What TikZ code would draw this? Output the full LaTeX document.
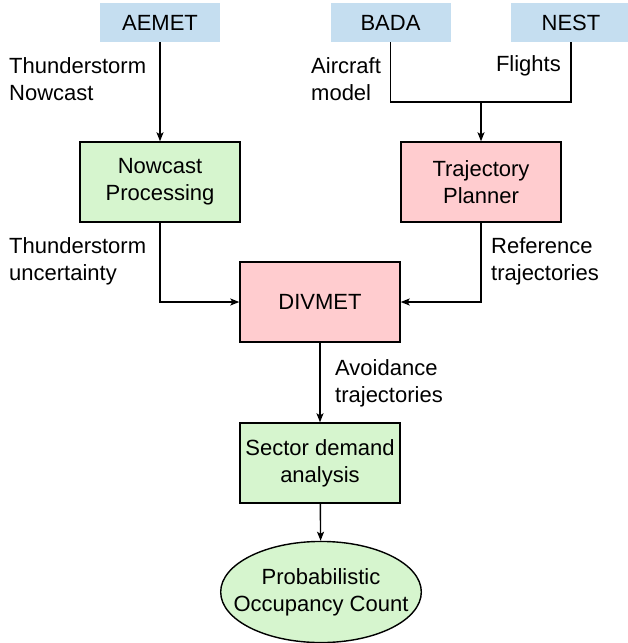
\documentclass[tikz,border=0pt]{standalone}
\usepackage{fontspec}
\setmainfont{Liberation Sans}
\usepackage{tikz}
\usetikzlibrary{arrows.meta, shapes.geometric, positioning}
\definecolor{srcblue}{RGB}{197,222,240}
\definecolor{procgreen}{RGB}{214,245,206}
\definecolor{procpink}{RGB}{255,204,207}

\begin{document}
\begin{tikzpicture}[x=1pt, y=-1pt,
        font=\fontsize{22}{27}\selectfont,
        source/.style={fill=srcblue, minimum width=120pt, minimum height=39pt, inner sep=0pt},
        procbox/.style={draw, line width=1.4pt, minimum width=160pt, minimum height=80pt, align=center, inner sep=0pt},
        flowlabel/.style={align=left, inner sep=0pt},
        flow/.style={line width=1.4pt, -{Stealth[length=9pt, width=7pt, inset=2pt]}}]
        \useasboundingbox (0,0) rectangle (627,643);

        % data sources
        \node[source] (aemet) at (160,22.5) {AEMET};
        \node[source] (bada) at (390.5,22.5) {BADA};
        \node[source] (nest) at (571,22.5) {NEST};

        % processing blocks
        \node[procbox, fill=procgreen] (nowcast) at (160,182) {Nowcast\\Processing};
        \node[procbox, fill=procpink] (planner) at (481,182) {Trajectory\\Planner};
        \node[procbox, fill=procpink] (divmet) at (320,302) {DIVMET};
        \node[procbox, fill=procgreen] (sector) at (320,463) {Sector demand\\analysis};
        \node[ellipse, draw, line width=1.4pt, fill=procgreen, align=center,
              inner xsep=-16.5pt, inner ysep=12pt] (count) at (321,592) {Probabilistic\\Occupancy Count};

        \coordinate (merge) at (481,102);

        % connectors
        \draw[flow] (aemet) -- (nowcast);
        \draw[line width=1.4pt] (bada.south) |- (merge);
        \draw[line width=1.4pt] (nest.south) |- (merge);
        \draw[flow] (merge) -- (planner);
        \draw[flow] (nowcast.south) |- (divmet.west);
        \draw[flow] (planner.south) |- (divmet.east);
        \draw[flow] (divmet) -- (sector);
        \draw[flow] (sector) -- (count);

        % labels on the flows
        \node[flowlabel, anchor=west] (lnowcast) at (9,79) {Thunderstorm\\Nowcast};
        \node[flowlabel, anchor=west] (lmodel) at (311,79) {Aircraft\\model};
        \node[flowlabel, anchor=east] (lflights) at (561,66) {Flights};
        \node[flowlabel, anchor=west] (luncert) at (9,261) {Thunderstorm\\uncertainty};
        \node[flowlabel, anchor=west] (lref) at (491,261) {Reference\\trajectories};
        \node[flowlabel, anchor=west] (lavoid) at (335,383) {Avoidance\\trajectories};
\end{tikzpicture}
\end{document}
